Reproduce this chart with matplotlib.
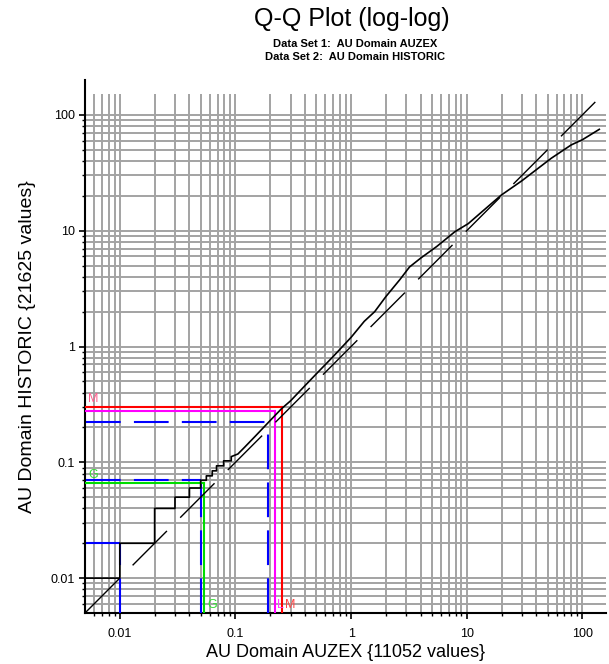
import matplotlib
matplotlib.use("Agg")
import matplotlib.pyplot as plt
import numpy as np

plt.rcParams['font.family'] = ['Liberation Sans', 'DejaVu Sans']
plt.rcParams['lines.scale_dashes'] = False

# ---- data ----
title = "Q-Q Plot (log-log)"
subtitle1 = "Data Set 1:  AU Domain AUZEX"
subtitle2 = "Data Set 2:  AU Domain HISTORIC"
xlabel = "AU Domain AUZEX {11052 values}"
ylabel = "AU Domain HISTORIC {21625 values}"

qq_x = [0.005, 0.01, 0.01, 0.02, 0.02, 0.03, 0.03, 0.04, 0.04, 0.05, 0.05, 0.056, 0.056,
        0.063, 0.063, 0.0686, 0.0686, 0.079, 0.079, 0.092, 0.092, 0.105, 0.12, 0.15, 0.2,
        0.25, 0.3, 0.4, 0.5, 0.7, 1.0, 1.3, 1.6, 2.0, 2.64, 3.2, 4.0, 5.5, 7.9, 10.3, 14.0,
        19.9, 30.0, 53.8, 80.0, 100.0, 140.0]
qq_y = [0.01, 0.01, 0.02, 0.02, 0.04, 0.04, 0.05, 0.05, 0.06, 0.06, 0.07, 0.07, 0.0764,
        0.0764, 0.0844, 0.0844, 0.0933, 0.0933, 0.103, 0.103, 0.112, 0.118, 0.135, 0.17, 0.23,
        0.29, 0.34, 0.46, 0.58, 0.82, 1.2, 1.65, 2.0, 2.7, 3.78, 4.86, 5.8, 7.3, 9.8, 11.5, 15.0,
        20.3, 27.0, 42.2, 55.0, 61.0, 75.0]

# marker statistics: (x value, y value)
mean_xy = (0.253, 0.298)        # red  M
lognorm_xy = (0.219, 0.279)     # magenta L
geo_xy = (0.0537, 0.0669)       # green G
quant_xy = [(0.01, 0.0202), (0.0502, 0.0701), (0.192, 0.221)]  # blue quantiles

xtick_vals = [0.01, 0.1, 1, 10, 100]
xtick_labels = ["0.01", "0.1", "1", "10", "100"]
ytick_vals = [0.01, 0.1, 1, 10, 100]
ytick_labels = ["0.01", "0.1", "1", "10", "100"]

XMIN, XMAX = 0.005, 160
YMIN, YMAX = 0.005, 200

# ---- figure ----
W, H = 609, 664
fig = plt.figure(figsize=(W / 100, H / 100), dpi=100)
ax = fig.add_axes([85 / W, (H - 613) / H, (606 - 85) / W, (613 - 80) / H])
ax.set_xscale('log')
ax.set_yscale('log')
ax.set_xlim(XMIN, XMAX)
ax.set_ylim(YMIN, YMAX)

# grid lines (1..9 x decade)
grid_vals = [k * 10.0 ** n for n in range(-3, 3) for k in range(1, 10)]
grid_vals = [g for g in grid_vals if XMIN < g <= 100.0001]
gc = '#a3a3a3'
ax.vlines(grid_vals, YMIN, 150, colors=gc, lw=1.4, zorder=1)
ax.hlines(grid_vals, XMIN, XMAX, colors=gc, lw=1.4, zorder=1)

# reference line y = x
ax.plot([XMIN, 150], [YMIN, 150], color='black', lw=1.0,
        dashes=(35, 13.5), zorder=5)

# QQ line
ax.plot(qq_x, qq_y, color='black', lw=1.2, zorder=6)

blue_dash = (25, 9.5)
# blue quantiles
for qx, qy in quant_xy:
    ax.plot([XMIN * 1.02, qx], [qy, qy], color='#0000ff', lw=1.5, dashes=blue_dash, zorder=3)
    ax.plot([qx, qx], [YMIN, qy], color='#0000ff', lw=1.5, dashes=blue_dash, zorder=3)

# green geometric mean
ax.plot([XMIN, geo_xy[0]], [geo_xy[1]] * 2, color='#00dd00', lw=1.5, zorder=4)
ax.plot([geo_xy[0]] * 2, [YMIN, geo_xy[1]], color='#00dd00', lw=1.5, zorder=4)
# magenta
ax.plot([XMIN, lognorm_xy[0]], [lognorm_xy[1]] * 2, color='#ff00ff', lw=1.5, zorder=4)
ax.plot([lognorm_xy[0]] * 2, [YMIN, lognorm_xy[1]], color='#ff00ff', lw=1.5, zorder=4)
# red mean
ax.plot([XMIN, mean_xy[0]], [mean_xy[1]] * 2, color='#ff0000', lw=1.5, zorder=4)
ax.plot([mean_xy[0]] * 2, [YMIN, mean_xy[1]], color='#ff0000', lw=1.5, zorder=4)

# labels
lab_fs = 9
ax.text(0.0053, mean_xy[1] * 1.04, "M", color='#ff5a8a', fontsize=lab_fs, va='bottom', ha='left', zorder=7)
ax.text(0.0053, geo_xy[1] * 1.04, "G", color='#33dd33', fontsize=lab_fs, va='bottom', ha='left', zorder=7)
ax.text(geo_xy[0] * 1.06, 0.0052, "G", color='#33dd33', fontsize=lab_fs, va='bottom', ha='left', zorder=7)
ax.text(lognorm_xy[0] * 1.05, 0.0052, "L", color='#ff44ff', fontsize=lab_fs, va='bottom', ha='left', zorder=7)
ax.text(mean_xy[0] * 1.05, 0.0052, "M", color='#ff4444', fontsize=lab_fs, va='bottom', ha='left', zorder=7)

# spines / ticks
for s in ['top', 'right']:
    ax.spines[s].set_visible(False)
for s in ['left', 'bottom']:
    ax.spines[s].set_linewidth(1.5)
ax.set_xticks(xtick_vals)
ax.set_xticklabels(xtick_labels)
ax.set_yticks(ytick_vals)
ax.set_yticklabels(ytick_labels)
minor = [k * 10.0 ** n for n in range(-3, 3) for k in range(2, 10)]
ax.set_xticks([m for m in minor if XMIN < m < 100], minor=True)
ax.set_yticks([m for m in minor if YMIN < m < 100], minor=True)
ax.tick_params(which='major', length=4, width=1.2, labelsize=9, pad=3)
ax.tick_params(which='minor', length=2.5, width=1.0)
ax.tick_params(axis='x', pad=7)

ax.set_xlabel(xlabel, fontsize=13, labelpad=3)
ax.set_ylabel(ylabel, fontsize=14, labelpad=11)

fig.text(352 / W, 1 - 19 / H, title, ha='center', va='center', fontsize=18)
fig.text(355 / W, 1 - 44 / H, subtitle1, ha='center', va='center', fontsize=8, fontweight='bold')
fig.text(355 / W, 1 - 57 / H, subtitle2, ha='center', va='center', fontsize=8, fontweight='bold')

fig.savefig("out.png", dpi=100)
